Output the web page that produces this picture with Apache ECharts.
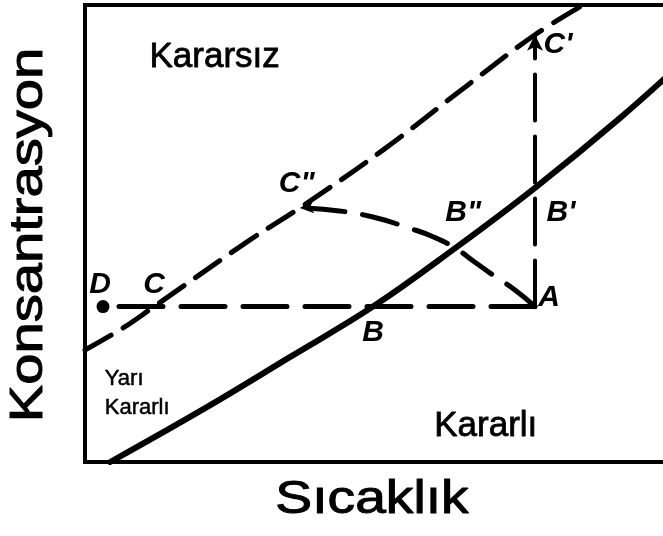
<!DOCTYPE html>
<html>
<head>
<meta charset="utf-8">
<script src="https://cdn.jsdelivr.net/npm/echarts@6/dist/echarts.min.js"></script>
<style>
  html, body { margin: 0; padding: 0; background: #fff; }
  #chart { width: 663px; height: 536px; }
</style>
</head>
<body>
<div id="chart"></div>
<script>
// Solubility (solid) curve: temperature vs concentration, arbitrary units 0-100
const solubilityX = [4.2, 20.3, 34.2, 48, 61.7, 75, 89.2, 100];
const solubilityY = [0, 12, 23, 34, 46.8, 60, 75.3, 88];

// Supersolubility (dashed) curve
const supersolX = [0, 6.3, 11.5, 27.5, 35.8, 49.7, 64.2, 75, 83];
const supersolY = [24.5, 29.3, 34, 48.6, 55.6, 68.3, 82.9, 93.5, 100];

// Cooling path A -> B -> C -> D
const coolingX = [75, 3];
const coolingY = [34, 34];

// Evaporation path A -> B' -> C'
const evapX = [75, 75];
const evapY = [34, 93.5];

// Combined path A -> B'' -> C''
const arcX = [75, 71.5, 68, 65, 61.7, 58, 54, 48, 42, 35.8];
const arcY = [34, 37.8, 40.9, 43.7, 46.8, 49.3, 51.2, 53.6, 55, 55.6];

// Named state points
const pointNames = ['D', 'C', 'B', 'A', "B'", "C'", 'B"', 'C"'];
const pointX = [3, 11.5, 48, 75, 75, 75, 61.7, 35.8];
const pointY = [34, 34, 34, 34, 60, 93.5, 46.8, 55.6];

// Region names
const regionNames = ['Kararsız', 'Yarı\nKararlı', 'Kararlı'];
const regionX = [21.6, 3.3, 66.8];
const regionY = [88.6, 15.0, 7.9];

// Axis titles
const xTitle = 'Sıcaklık';
const yTitle = 'Konsantrasyon';

const zip = (xs, ys) => xs.map((x, i) => [x, ys[i]]);

// label placement around each point (pixels)
const labelOffsets = {
  'D': [-3, -22], 'C': [0, -22], 'B': [0, 26], 'A': [14, -9],
  "B'": [26, 25], "C'": [23, 10], 'B"': [8, -35], 'C"': [-3, -24]
};
const regionAlign = ['center', 'left', 'center'];

const chart = echarts.init(document.getElementById('chart'), null, { renderer: 'canvas' });

const hiddenAxis = {
  type: 'value', min: 0, max: 100,
  axisLine: { show: false }, axisTick: { show: false },
  axisLabel: { show: false }, splitLine: { show: false }
};

const FONT = '"Liberation Sans", Arial, sans-serif';

const titleStyle = {
  fill: '#000', stroke: '#000', lineWidth: 1,
  font: '46px ' + FONT,
  textAlign: 'center', textVerticalAlign: 'middle',
  align: 'center', verticalAlign: 'middle'
};

const option = {
  animation: false,
  backgroundColor: '#fff',
  grid: {
    left: 85, top: 5, right: -22, bottom: 74,
    outerBoundsMode: 'none', containLabel: false,
    show: true, borderColor: '#000', borderWidth: 4, backgroundColor: 'transparent'
  },
  xAxis: hiddenAxis,
  yAxis: hiddenAxis,
  graphic: [
    {
      type: 'text', x: 372, y: 500, scaleX: 1.2,
      style: Object.assign({ text: xTitle }, titleStyle)
    },
    {
      type: 'text', x: 29, y: 235, rotation: Math.PI / 2, scaleX: 1.22,
      style: Object.assign({ text: yTitle }, titleStyle)
    }
  ],
  series: [
    {
      name: 'solubility', type: 'line', data: zip(solubilityX, solubilityY),
      smooth: 0.4, symbol: 'none', clip: true,
      lineStyle: { color: '#000', width: 6, cap: 'round' }
    },
    {
      name: 'supersolubility', type: 'line', data: zip(supersolX, supersolY),
      smooth: 0.4, symbol: 'none', clip: true,
      lineStyle: { color: '#000', width: 5, type: [30, 14], cap: 'round' }
    },
    {
      name: 'cooling', type: 'line', data: zip(coolingX, coolingY),
      symbol: 'none',
      lineStyle: { color: '#000', width: 5, type: [44, 18], cap: 'round' }
    },
    {
      name: 'evaporation', type: 'line', data: zip(evapX, evapY),
      symbol: 'none',
      lineStyle: { color: '#000', width: 4, type: [46, 16], cap: 'round' }
    },
    {
      name: 'combined', type: 'line', data: zip(arcX, arcY),
      smooth: 0.5, symbol: 'none',
      lineStyle: { color: '#000', width: 5, type: [36, 18], cap: 'round' }
    },
    {
      // arrowheads and the start dot
      name: 'markers', type: 'scatter', silent: true,
      data: [
        { value: [pointX[0], pointY[0]], symbol: 'circle', symbolSize: 13 },
        { value: [pointX[5], pointY[5]], symbol: 'arrow', symbolSize: [12, 16], symbolRotate: 0 },
        { value: [pointX[7], pointY[7]], symbol: 'arrow', symbolSize: [10, 14], symbolRotate: 95 }
      ],
      itemStyle: { color: '#000', opacity: 1 }
    },
    {
      name: 'points', type: 'scatter', silent: true, symbolSize: 0,
      itemStyle: { color: '#000', opacity: 1 },
      data: pointNames.map((n, i) => ({
        name: n, value: [pointX[i], pointY[i]],
        label: { offset: labelOffsets[n] }
      })),
      label: {
        show: true, position: 'inside', formatter: p => p.name,
        color: '#000', textBorderWidth: 0, fontSize: 30, fontWeight: 'bold', fontStyle: 'italic',
        fontFamily: FONT
      }
    },
    {
      name: 'regions', type: 'scatter', silent: true, symbolSize: 0,
      itemStyle: { color: '#000', opacity: 1 },
      data: regionNames.map((n, i) => ({
        name: n, value: [regionX[i], regionY[i]],
        label: i === 1
          ? { fontSize: 22, lineHeight: 29, align: 'left', textBorderWidth: 0.5 }
          : { fontSize: 35, align: regionAlign[i], textBorderWidth: 0.8 }
      })),
      label: {
        show: true, position: 'inside', formatter: p => p.name,
        color: '#000', textBorderColor: '#000', fontFamily: FONT
      }
    }
  ]
};

chart.setOption(option);
</script>
</body>
</html>
